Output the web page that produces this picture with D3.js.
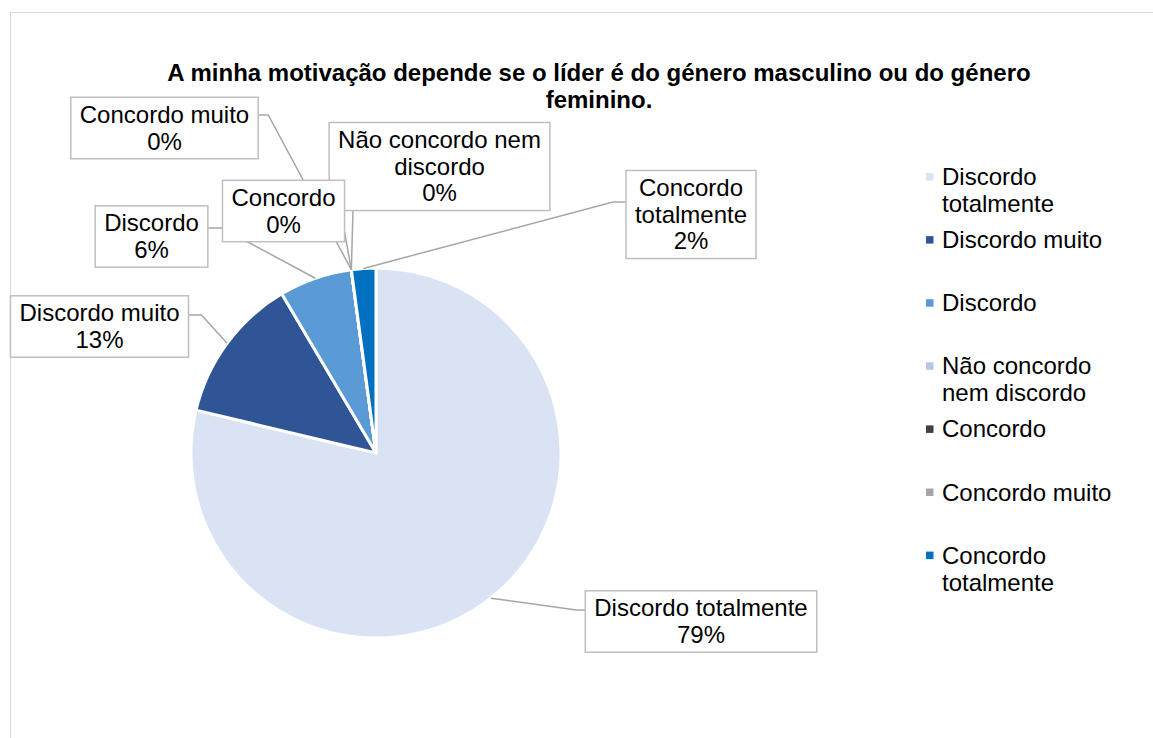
<!DOCTYPE html>
<meta charset="utf-8">
<style>
body { margin: 0; background: #fff; }
text { font-family: "Liberation Sans", Arial, sans-serif; fill: #000; }
.frame { fill: none; stroke: #d9d9d9; stroke-width: 1; }
.slice { stroke: #fff; stroke-width: 3; stroke-linejoin: round; }
.leader { fill: none; stroke: #a6a6a6; stroke-width: 1.5; }
.lbox { fill: #fff; stroke: #bfbfbf; stroke-width: 1.5; }
</style>
<svg width="1153" height="738"></svg>
<script src="https://cdn.jsdelivr.net/npm/d3@7"></script>
<script>

// data
var categories = ["Discordo totalmente", "Discordo muito", "Discordo", "Não concordo nem discordo",
                  "Concordo", "Concordo muito", "Concordo totalmente"];
var counts = [37, 6, 3, 0, 0, 0, 1];
var colors = ["#dae3f3", "#2f5597", "#5b9bd5", "#b4c7e7", "#404040", "#a5a5a5", "#0070c0"];
var titleLines = ["A minha motivação depende se o líder é do género masculino ou do género", "feminino."];

// where excel put the label boxes (center, wrap width, which side the leader enters)
var labelLayout = [
  {cx: 701, cy: 621.5, wrap: 240, side: "left", ay: 610, elbow: 9},
  {cx: 99.5, cy: 326.5, wrap: 200, side: "right", ay: 315, elbow: 13},
  {cx: 151.5, cy: 236.5, wrap: 200, side: "right", ay: 228, elbow: 14},
  {cx: 439.5, cy: 166.5, wrap: 210, side: "bottom", ax: 353},
  {cx: 283.5, cy: 211, wrap: 200, side: "right", ay: 232, elbow: 0},
  {cx: 164.5, cy: 128, wrap: 200, side: "right", ay: 115, elbow: 10},
  {cx: 691, cy: 214.5, wrap: 120, side: "left", ay: 202, elbow: 13}
];

var svg = d3.select("svg"),
    width = +svg.attr("width"),
    height = +svg.attr("height");

var fontSize = 24, lineH = 26.7;

svg.append("rect").attr("class", "frame")
    .attr("x", 10.5).attr("y", 12.5).attr("width", 1200).attr("height", 800);

svg.append("g").selectAll("text")
    .data(titleLines)
  .enter().append("text")
    .attr("x", 599)
    .attr("y", function(d, i) { return 81 + i * 27; })
    .attr("text-anchor", "middle")
    .style("font-size", fontSize + "px")
    .style("font-weight", "bold")
    .text(function(d) { return d; });

var data = categories.map(function(c, i) { return {name: c, count: counts[i], color: colors[i]}; });
var total = d3.sum(counts);
var pct = d3.format(".0%");

var cx = 376, cy = 453, radius = 185;

var pie = d3.pie().sort(null).value(function(d) { return d.count; });
var arc = d3.arc().innerRadius(0).outerRadius(radius);
var arcs = pie(data);

var g = svg.append("g").attr("transform", "translate(" + cx + "," + cy + ")");
g.selectAll("path")
    .data(arcs)
  .enter().append("path")
    .attr("class", "slice")
    .attr("fill", function(d) { return d.data.color; })
    .attr("d", arc);

// measuring + wrapping text
var measurer = svg.append("text").style("font-size", fontSize + "px");
function textW(s) { measurer.text(s); return measurer.node().getComputedTextLength(); }
function wrap(s, maxW) {
  var words = s.split(" "), lines = [], cur = "";
  words.forEach(function(w) {
    var t = cur ? cur + " " + w : w;
    if (cur && textW(t) > maxW) { lines.push(cur); cur = w; } else cur = t;
  });
  lines.push(cur);
  return lines;
}

// labels
var labels = arcs.map(function(a, i) {
  var L = labelLayout[i];
  var lines = wrap(a.data.name, L.wrap).concat([pct(a.data.count / total)]);
  var w = d3.max(lines, textW) + 18;
  var h = lines.length * lineH + 8;
  var mid = (a.startAngle + a.endAngle) / 2;
  return {
    lines: lines, L: L, w: w, h: h,
    x0: L.cx - w / 2, y0: L.cy - h / 2,
    px: cx + radius * Math.sin(mid), py: cy - radius * Math.cos(mid)
  };
});

svg.append("g").selectAll("path")
    .data(labels)
  .enter().append("path")
    .attr("class", "leader")
    .attr("d", function(d) {
      var L = d.L, pts;
      if (L.side === "bottom") {
        pts = [[d.px, d.py], [L.ax, d.y0 + d.h]];
      } else {
        var ex = L.side === "left" ? d.x0 : d.x0 + d.w;
        var dir = L.side === "left" ? -1 : 1;
        pts = [[d.px, d.py], [ex + dir * L.elbow, L.ay], [ex, L.ay]];
      }
      return d3.line()(pts);
    });

var lg = svg.append("g").selectAll("g")
    .data(labels)
  .enter().append("g");
lg.append("rect").attr("class", "lbox")
    .attr("x", function(d) { return d.x0; })
    .attr("y", function(d) { return d.y0; })
    .attr("width", function(d) { return d.w; })
    .attr("height", function(d) { return d.h; });
lg.each(function(d) {
  d3.select(this).selectAll("text")
      .data(d.lines)
    .enter().append("text")
      .attr("x", d.L.cx)
      .attr("y", function(s, i) { return d.y0 + 25.5 + i * lineH; })
      .attr("text-anchor", "middle")
      .style("font-size", fontSize + "px")
      .text(function(s) { return s; });
});

// legend
var legend = svg.append("g").selectAll("g")
    .data(data)
  .enter().append("g")
    .attr("transform", function(d, i) { return "translate(926," + (185 + i * 63.1) + ")"; });
legend.append("rect")
    .attr("x", 0).attr("y", -12)
    .attr("width", 7.5).attr("height", 7.5)
    .attr("fill", function(d) { return d.color; });
legend.each(function(d) {
  d3.select(this).selectAll("text")
      .data(wrap(d.name, 175))
    .enter().append("text")
      .attr("x", 16)
      .attr("y", function(s, i) { return i * 27; })
      .style("font-size", fontSize + "px")
      .text(function(s) { return s; });
});

measurer.remove();

</script>
